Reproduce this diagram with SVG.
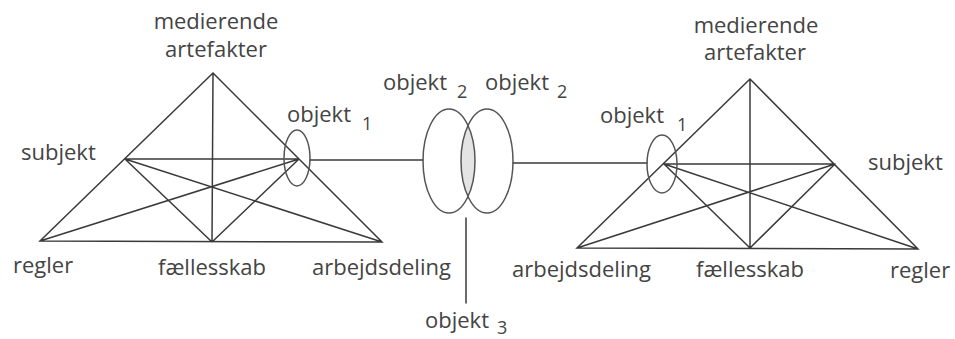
<svg xmlns="http://www.w3.org/2000/svg" width="955" height="339" viewBox="0 0 955 339">
<style>
.l{stroke:#3a3a3a;stroke-width:1.5;fill:none;stroke-linecap:round}
.e{stroke:#555;stroke-width:1.5;fill:none}
text{font-family:"Open Sans","DejaVu Sans",sans-serif;font-size:22px;fill:#444}
.s{font-size:18px}
.m{text-anchor:middle}
</style>
<defs>
<clipPath id="clipL"><ellipse cx="449" cy="161" rx="26" ry="52"/></clipPath>
</defs>
<rect width="955" height="339" fill="#fff"/>
<g id="connectors">
<path class="l" d="M213,73 L40,241 L382,242 Z M213,73 L212,242 M125,159 L299,159 M125,159 L212,242 M125,159 L382,242 M40,241 L299,159 M212,242 L299,159"/>
<path class="l" d="M750,79 L577,248 L918,249 Z M750,79 L750,248 M835,164 L664,164 M835,164 L750,248 M835,164 L577,248 M918,249 L664,164 M750,248 L664,164"/>
<line class="l" x1="310" y1="160" x2="423" y2="160"/>
<line class="l" x1="513" y1="163" x2="647" y2="163"/>
<line class="l" x1="466" y1="218" x2="466" y2="303" stroke="#666"/>
</g>
<g id="left-medierende"><text class="m" x="216" y="29">medierende</text><text class="m" x="216" y="57">artefakter</text></g>
<g id="left-subjekt"><text x="21" y="160">subjekt</text></g>
<g id="left-regler"><text x="13" y="273">regler</text></g>
<g id="left-faellesskab"><text x="158" y="275">fællesskab</text></g>
<g id="left-arbejdsdeling"><text x="312" y="275">arbejdsdeling</text></g>
<g id="left-objekt1"><ellipse class="e" cx="297" cy="158" rx="13" ry="28"/><text x="287" y="122">objekt</text><text class="s" x="362" y="130">1</text></g>
<g id="objekt2">
<ellipse cx="487" cy="161" rx="26" ry="52" fill="#e4e4e4" clip-path="url(#clipL)"/>
<ellipse class="e" cx="449" cy="161" rx="26" ry="52"/>
<ellipse class="e" cx="487" cy="161" rx="26" ry="52"/>
<text x="383" y="90">objekt</text><text class="s" x="457" y="98">2</text>
<text x="485" y="90">objekt</text><text class="s" x="557" y="98">2</text>
</g>
<g id="objekt3"><text x="425" y="328">objekt</text><text class="s" x="497" y="334">3</text></g>
<g id="right-medierende"><text class="m" x="756" y="33">medierende</text><text class="m" x="755" y="60">artefakter</text></g>
<g id="right-objekt1"><ellipse class="e" cx="662" cy="164" rx="15" ry="29"/><text x="600" y="123">objekt</text><text class="s" x="677" y="131">1</text></g>
<g id="right-subjekt"><text x="868" y="170">subjekt</text></g>
<g id="right-arbejdsdeling"><text x="512" y="277">arbejdsdeling</text></g>
<g id="right-faellesskab"><text x="696" y="277">fællesskab</text></g>
<g id="right-regler"><text x="890" y="278">regler</text></g>
</svg>
